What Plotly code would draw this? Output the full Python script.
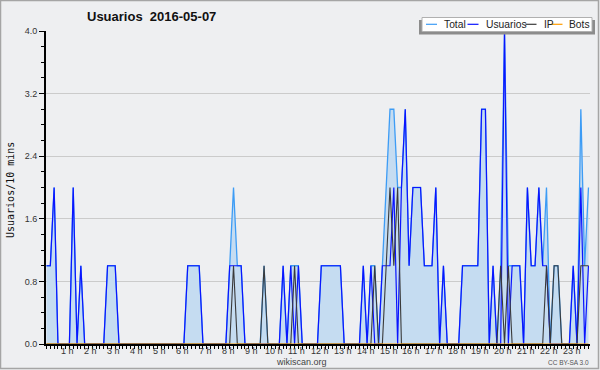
import plotly.graph_objects as go

# 10-minute slots of 2016-05-07 (0 = 00:00 ... 142 = 23:40)
slots = list(range(143))

usuarios = [
    1, 1, 2, 0, 0, 0, 0, 2, 0, 1, 0, 0,
    0, 0, 0, 0, 1, 1, 1, 0, 0, 0, 0, 0,
    0, 0, 0, 0, 0, 0, 0, 0, 0, 0, 0, 0,
    0, 1, 1, 1, 1, 0, 0, 0, 0, 0, 0, 0,
    1, 1, 1, 1, 0, 0, 0, 0, 0, 0, 0, 0,
    0, 0, 1, 0, 1, 0, 1, 0, 0, 0, 0, 0,
    1, 1, 1, 1, 1, 1, 0, 0, 0, 0, 0, 1,
    0, 1, 0, 0, 1, 1, 1, 2, 0, 2, 3, 1,
    2, 2, 2, 1, 1, 1, 2, 0, 1, 0, 0, 0,
    0, 1, 1, 1, 1, 1, 3, 3, 0, 1, 0, 0,
    4, 0, 1, 1, 1, 0, 2, 1, 1, 2, 1, 1,
    0, 0, 0, 0, 0, 0, 1, 0, 2, 0, 1,
]

ip = [
    0, 0, 0, 0, 0, 0, 0, 0, 0, 0, 0, 0,
    0, 0, 0, 0, 0, 0, 0, 0, 0, 0, 0, 0,
    0, 0, 0, 0, 0, 0, 0, 0, 0, 0, 0, 0,
    0, 0, 0, 0, 0, 0, 0, 0, 0, 0, 0, 0,
    0, 1, 0, 0, 0, 0, 0, 0, 0, 1, 0, 0,
    0, 0, 0, 0, 0, 1, 0, 0, 0, 0, 0, 0,
    0, 0, 0, 0, 0, 0, 0, 0, 0, 0, 0, 0,
    0, 0, 1, 0, 0, 1, 2, 1, 2, 0, 0, 0,
    0, 0, 0, 0, 0, 0, 0, 0, 0, 0, 0, 0,
    0, 0, 0, 0, 0, 0, 0, 0, 0, 0, 0, 1,
    0, 1, 0, 0, 0, 0, 0, 0, 0, 0, 0, 1,
    0, 1, 1, 0, 0, 0, 0, 0, 1, 1, 1,
]

total = [
    1, 1, 2, 0, 0, 0, 0, 2, 0, 1, 0, 0,
    0, 0, 0, 0, 1, 1, 1, 0, 0, 0, 0, 0,
    0, 0, 0, 0, 0, 0, 0, 0, 0, 0, 0, 0,
    0, 1, 1, 1, 1, 0, 0, 0, 0, 0, 0, 0,
    1, 2, 1, 1, 0, 0, 0, 0, 0, 1, 0, 0,
    0, 0, 1, 0, 1, 1, 1, 0, 0, 0, 0, 0,
    1, 1, 1, 1, 1, 1, 0, 0, 0, 0, 0, 1,
    0, 1, 1, 0, 1, 2, 3, 3, 2, 2, 3, 1,
    2, 2, 2, 1, 1, 1, 2, 0, 1, 0, 0, 0,
    0, 1, 1, 1, 1, 1, 3, 3, 0, 1, 0, 1,
    4, 1, 1, 1, 1, 0, 2, 1, 1, 2, 1, 2,
    0, 1, 1, 0, 0, 0, 1, 0, 3, 1, 2,
]

bots = [0] * len(slots)

hour_ticks = [6, 12, 18, 24, 30, 36, 42, 48, 54, 60, 66, 72, 78, 84,
              90, 96, 102, 108, 114, 120, 126, 132, 138]
hour_labels = ["1 h", "2 h", "3 h", "4 h", "5 h", "6 h", "7 h", "8 h",
               "9 h", "10 h", "11 h", "12 h", "13 h", "14 h", "15 h",
               "16 h", "17 h", "18 h", "19 h", "20 h", "21 h", "22 h", "23 h"]
y_ticks = [0, 0.8, 1.6, 2.4, 3.2, 4.0]
y_labels = ["0.0", "0.8", "1.6", "2.4", "3.2", "4.0"]

C_TOTAL = "#3d9cf5"
C_FILL = "#c5dcf1"
C_USR = "#0a14ff"
C_IP = "#3a3a3a"
C_BOTS = "#ff9c00"
BG = "#eeeff1"

fig = go.Figure()
fig.add_trace(go.Scatter(x=slots, y=total, mode="lines", fill="tozeroy",
                         fillcolor=C_FILL, line=dict(color=C_TOTAL, width=1.3),
                         name="Total", showlegend=False))
fig.add_trace(go.Scatter(x=slots, y=usuarios, mode="lines",
                         line=dict(color=C_USR, width=1.2),
                         name="Usuarios", showlegend=False))
fig.add_trace(go.Scatter(x=slots, y=ip, mode="lines",
                         line=dict(color=C_IP, width=1.1),
                         name="IP", showlegend=False))
fig.add_trace(go.Scatter(x=slots, y=bots, mode="lines",
                         line=dict(color=C_BOTS, width=1.1),
                         name="Bots", showlegend=False))

L, R, T, B = 46, 10, 31, 26
PW, PH = 600 - L - R, 370 - T - B


def px(xp):
    return (xp - L) / PW


def py(yp):
    return (370 - B - yp) / PH


shapes = []
# outer frame
shapes.append(dict(type="rect", xref="paper", yref="paper",
                   x0=px(0.5), x1=px(598.5), y0=py(0.5), y1=py(368.5),
                   line=dict(color="#a5a5a5", width=1.5), fillcolor="rgba(0,0,0,0)",
                   layer="above"))
# legend shadow and box
shapes.append(dict(type="rect", xref="paper", yref="paper",
                   x0=px(419), x1=px(595), y0=py(34.5), y1=py(20),
                   line=dict(width=0), fillcolor="#8c8c8c", layer="above"))
shapes.append(dict(type="rect", xref="paper", yref="paper",
                   x0=px(422), x1=px(592), y0=py(31.5), y1=py(17.5),
                   line=dict(color="#b0b0b0", width=1), fillcolor="#ffffff",
                   layer="above"))
legend_items = [("Total", C_TOTAL, 426, 441.5), ("Usuarios", C_USR, 467.5, 483.5),
                ("IP", C_IP, 525.5, 542), ("Bots", C_BOTS, 551.5, 567)]
annotations = []
for name, col, lx, tx in legend_items:
    shapes.append(dict(type="line", xref="paper", yref="paper",
                       x0=px(lx), x1=px(lx + 11), y0=py(24.3), y1=py(24.3),
                       line=dict(color=col, width=1.2), layer="above"))
    annotations.append(dict(x=px(tx), y=py(24.5), xref="paper", yref="paper",
                            text=name, showarrow=False, xanchor="left",
                            yanchor="middle",
                            font=dict(family="Liberation Sans", size=10.3,
                                      color="#222")))

# hour labels under the x axis, placed at their slot positions
for tv, tl in zip(hour_ticks, hour_labels):
    annotations.append(dict(x=tv, y=py(350.5), xref="x", yref="paper",
                            text=tl, showarrow=False, xanchor="center",
                            yanchor="middle", xshift=-1.5,
                            font=dict(family="Liberation Sans", size=9,
                                      color="#333")))

annotations.append(dict(x=px(151), y=py(16.5), xref="paper", yref="paper",
                        text="<b>Usuarios  2016-05-07</b>", showarrow=False,
                        xanchor="center", yanchor="middle",
                        font=dict(family="Liberation Sans", size=13, color="#111")))
annotations.append(dict(x=px(10), y=py(190), xref="paper", yref="paper",
                        text="Usuarios/10 mins", showarrow=False, textangle=-90,
                        xanchor="center", yanchor="middle",
                        font=dict(family="DejaVu Sans Mono", size=10, color="#111")))
annotations.append(dict(x=px(301), y=py(362), xref="paper", yref="paper",
                        text="wikiscan.org", showarrow=False,
                        xanchor="center", yanchor="middle",
                        font=dict(family="Liberation Sans", size=9, color="#444")))
annotations.append(dict(x=px(591), y=py(362.5), xref="paper", yref="paper",
                        text="CC BY-SA 3.0", showarrow=False,
                        xanchor="right", yanchor="middle",
                        font=dict(family="Liberation Sans", size=6.5, color="#555")))

fig.update_layout(
    width=600, height=370,
    margin=dict(l=L, r=R, t=T, b=B, pad=0, autoexpand=False),
    paper_bgcolor=BG, plot_bgcolor=BG,
    showlegend=False,
    shapes=shapes, annotations=annotations,
    xaxis=dict(range=[-0.13, 142.4], tickmode="array", tickvals=hour_ticks,
               ticktext=hour_labels, showticklabels=False,
               ticks="outside", ticklen=3, tickwidth=1,
               tickcolor="#000", showgrid=False, zeroline=False,
               showline=True, linecolor="#000", linewidth=2,
               automargin=False,
               minor=dict(tickmode="linear", tick0=0, dtick=1, ticks="outside",
                          ticklen=3, tickwidth=1, tickcolor="#000",
                          showgrid=False),
               fixedrange=True),
    yaxis=dict(range=[0, 4], tickmode="array", tickvals=y_ticks,
               ticktext=y_labels, ticks="outside", ticklen=5, tickwidth=1,
               tickcolor="#000", showgrid=True, gridcolor="#cbcbcb",
               gridwidth=1, zeroline=False, showline=True, linecolor="#000",
               linewidth=2, automargin=False,
               tickfont=dict(family="Liberation Sans", size=9, color="#333"),
               minor=dict(tickmode="linear", tick0=0, dtick=0.2,
                          ticks="outside", ticklen=3, tickwidth=1,
                          tickcolor="#000", showgrid=False),
               fixedrange=True),
)

fig.write_html("out.html")
